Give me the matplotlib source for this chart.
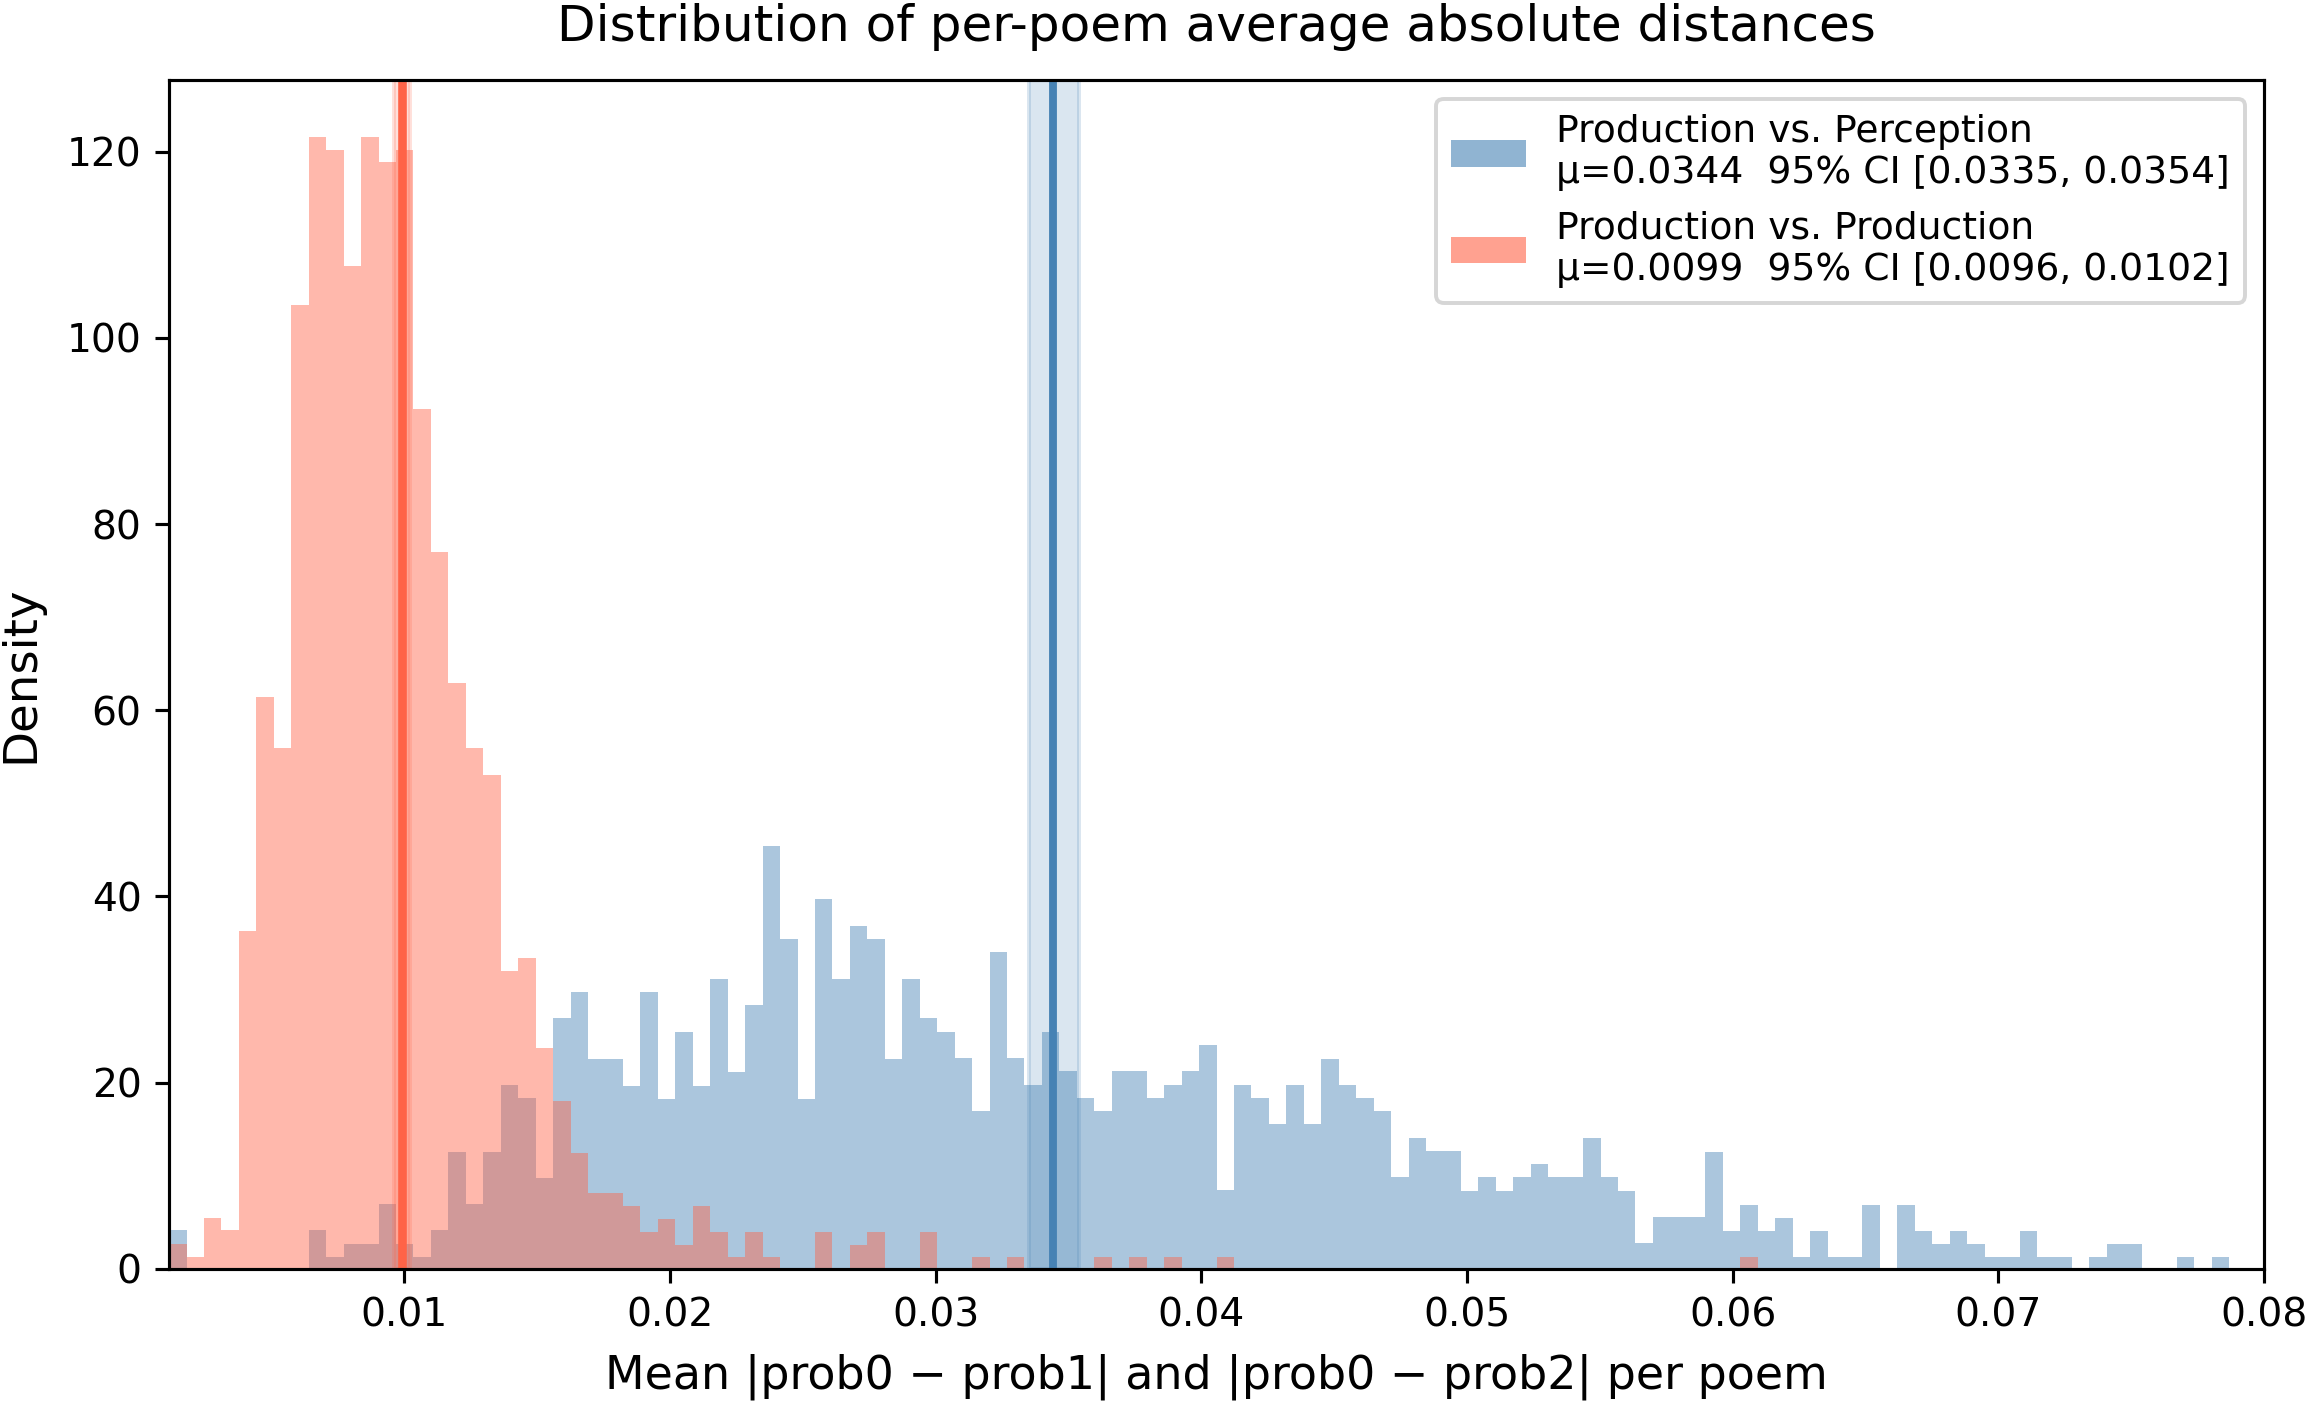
import numpy as np
import matplotlib
matplotlib.use('Agg')
import matplotlib.pyplot as plt
from matplotlib.patches import Patch

# Histogram densities, one value per bin (118 bins)
x_lo, x_hi, n_bins = 0.00115, 0.07868, 118

perception_density = [
    4.2, 0, 0, 0, 0, 0, 0, 0, 4.2, 1.3,
    2.7, 2.7, 7.0, 2.7, 1.3, 4.2, 12.6, 7.0, 12.6, 19.8,
    18.4, 9.8, 26.9, 29.7, 22.6, 22.6, 19.7, 29.7, 18.3, 25.4,
    19.7, 31.1, 21.2, 28.3, 45.4, 35.4, 18.3, 39.7, 31.1, 36.8,
    35.4, 22.6, 31.1, 26.9, 25.5, 22.7, 17.0, 34.0, 22.7, 19.8,
    25.5, 21.3, 18.4, 17.0, 21.3, 21.3, 18.4, 19.8, 21.3, 24.1,
    8.5, 19.8, 18.4, 15.6, 19.8, 15.6, 22.6, 19.8, 18.4, 17.0,
    9.9, 14.1, 12.7, 12.7, 8.4, 9.9, 8.4, 9.9, 11.3, 9.9,
    9.9, 14.1, 9.9, 8.4, 2.8, 5.6, 5.6, 5.6, 12.6, 4.1,
    6.9, 4.1, 5.5, 1.3, 4.1, 1.3, 1.3, 6.9, 0, 6.9,
    4.1, 2.7, 4.1, 2.7, 1.3, 1.3, 4.1, 1.3, 1.3, 0,
    1.3, 2.7, 2.7, 0, 0, 1.3, 0, 1.3,
]

production_density = [
    2.7, 1.3, 5.5, 4.2, 36.3, 61.4, 55.9, 103.5, 121.6, 120.2,
    107.7, 121.6, 118.9, 120.2, 92.3, 77.0, 62.9, 55.9, 53.0, 32.0,
    33.4, 23.7, 18.0, 12.4, 8.2, 8.2, 6.8, 4.0, 5.4, 2.6,
    6.8, 4.0, 1.3, 4.0, 1.3, 0, 0, 4.0, 0, 2.6,
    4.0, 0, 0, 4.0, 0, 0, 1.3, 0, 1.3, 0,
    0, 0, 0, 1.3, 0, 1.3, 0, 1.3, 0, 0,
    1.3, 0, 0, 0, 0, 0, 0, 0, 0, 0,
    0, 0, 0, 0, 0, 0, 0, 0, 0, 0,
    0, 0, 0, 0, 0, 0, 0, 0, 0, 0,
    1.3, 0, 0, 0, 0, 0, 0, 0, 0, 0,
    0, 0, 0, 0, 0, 0, 0, 0, 0, 0,
    0, 0, 0, 0, 0, 0, 0, 0,
]

# mean and 95% CI per group
perception_mean, perception_ci = 0.0344, (0.0335, 0.0354)
production_mean, production_ci = 0.0099, (0.0096, 0.0102)

edges = np.linspace(x_lo, x_hi, n_bins + 1)
centers = (edges[:-1] + edges[1:]) / 2

dpi = 282
fig, ax = plt.subplots(figsize=(2307 / dpi, 1402 / dpi), dpi=dpi)
fig.subplots_adjust(left=0.0733, right=0.9814, bottom=0.0949, top=0.9429)

ax.hist(centers, bins=edges, weights=perception_density, color='steelblue', alpha=0.45)
ax.hist(centers, bins=edges, weights=production_density, color='tomato', alpha=0.45)

ax.axvspan(*perception_ci, color='steelblue', alpha=0.2)
ax.axvline(perception_mean, color='steelblue', lw=2)
ax.axvspan(*production_ci, color='tomato', alpha=0.2)
ax.axvline(production_mean, color='tomato', lw=2.2)

ax.set_xlim(x_lo, 0.08)
ax.set_title('Distribution of per-poem average absolute distances', fontsize=12.8, pad=10)
ax.set_xlabel('Mean |prob0 − prob1| and |prob0 − prob2| per poem', fontsize=11.75, labelpad=5)
ax.set_ylabel('Density', fontsize=11.9, labelpad=6)

handles = [
    Patch(facecolor='steelblue', alpha=0.6),
    Patch(facecolor='tomato', alpha=0.6),
]
labels = [
    f'Production vs. Perception\nμ={perception_mean:.4f}  95% CI [{perception_ci[0]:.4f}, {perception_ci[1]:.4f}]',
    f'Production vs. Production\nμ={production_mean:.4f}  95% CI [{production_ci[0]:.4f}, {production_ci[1]:.4f}]',
]
ax.legend(handles, labels, loc='upper right', fontsize=9.6)

fig.savefig('out.png', dpi=dpi)
